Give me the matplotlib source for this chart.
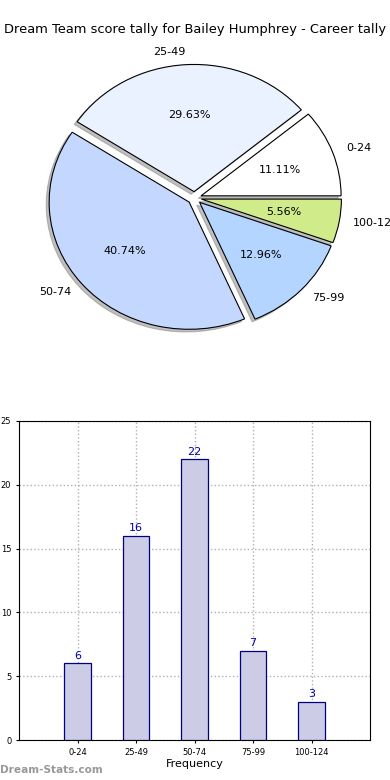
import matplotlib
matplotlib.use("Agg")
import matplotlib.pyplot as plt

categories = ["0-24", "25-49", "50-74", "75-99", "100-124"]
counts = [6, 16, 22, 7, 3]
pie_colors = ["#ffffff", "#eaf1ff", "#c4d8ff", "#b3d5ff", "#d0ec8a"]
title = "Dream Team score tally for Bailey Humphrey - Career tally"

fig = plt.figure(figsize=(3.9, 7.8), dpi=100)

# Pie
axp = fig.add_axes([19.5/390, 1 - 357/780, 350/390, 318/780])
axp.pie(counts, labels=categories, colors=pie_colors, autopct="%1.2f%%",
        explode=[0.05]*len(counts),
        shadow={"ox": -0.015, "oy": -0.015, "color": "#808080"},
        startangle=0, labeldistance=1.1, pctdistance=0.6,
        wedgeprops=dict(edgecolor="black", linewidth=0.8),
        textprops=dict(fontsize=8))
axp.set_aspect("auto")
axp.set_xlim(-1.25, 1.25)
axp.set_ylim(-1.25, 1.25)
fig.text(0.5, 1 - 30/780, title, ha="center", va="center", fontsize=9.4)

# Bars
axb = fig.add_axes([19/390, 1 - 740/780, 351/390, 319/780])
x = list(range(len(categories)))
axb.bar(x, counts, width=0.45, color="#ccccE6", edgecolor="#000080", linewidth=0.9, zorder=3)
for xi, c in zip(x, counts):
    axb.text(xi, c + 0.2, str(c), ha="center", va="bottom", color="#0000aa", fontsize=8, zorder=4)
axb.set_xlim(-1, 5)
axb.set_ylim(0, 25)
axb.set_xticks(x)
axb.set_xticklabels(categories, fontsize=6)
axb.set_yticks([0, 5, 10, 15, 20, 25])
axb.tick_params(axis="y", labelsize=6, length=2)
axb.tick_params(axis="x", length=2)
axb.grid(True, linestyle=":", color="#b0b0b0", linewidth=1, zorder=0)
axb.set_xlabel("Frequency", fontsize=8, labelpad=2)
axb.set_ylabel("Occurrences", fontsize=8, labelpad=2)

fig.text(0/390, 1 - 770/780, "Dream-Stats.com", ha="left", va="center",
         fontsize=7.6, color="#999999", fontweight="bold")

fig.savefig("out.png", dpi=100)
